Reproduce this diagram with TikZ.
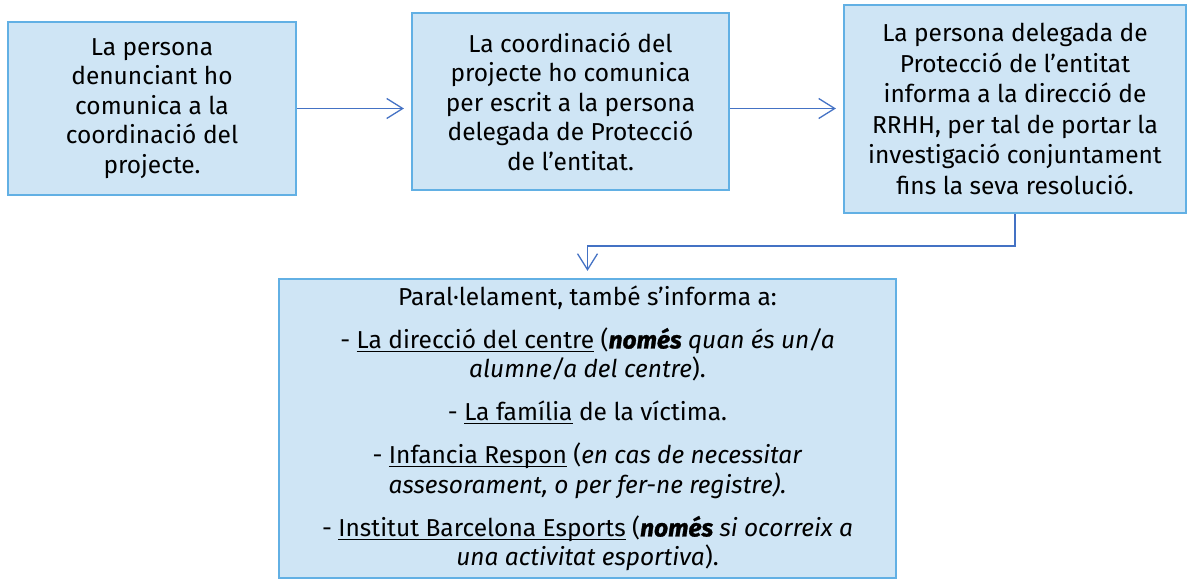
\documentclass[tikz,border=0pt]{standalone}
\usepackage{fontspec}
\setmainfont{Fira Sans}
\newfontfamily\heavyfont[FakeBold=1.2]{Fira Sans}
\usetikzlibrary{arrows.meta}
\definecolor{boxfill}{HTML}{CFE5F5}
\definecolor{boxline}{HTML}{62B0E4}
\definecolor{arrowc}{HTML}{4472C4}
\newcommand\myul[1]{\setbox0\hbox{#1}\rlap{\raisebox{-3.5pt}{\rule{\wd0}{1.1pt}}}\box0\relax}
\newcommand\heavyit[1]{{\heavyfont\bfseries\itshape #1}}
\begin{document}
\begin{tikzpicture}[x=1pt,y=1pt,
  box/.style={draw=boxline, line width=2.2pt, fill=boxfill, align=center,
    font=\fontsize{24.5}{29.5}\selectfont, inner sep=0pt},
  conn/.style={draw=arrowc, line width=1.3pt,
    -{Straight Barb[length=16pt,width=20pt,line width=1.3pt]}, shorten >=7pt}]
\useasboundingbox (0,0) rectangle (1188,-580);
\node[box, minimum width=288, minimum height=173] (b1) at (152,-108.5)
  {La persona\\denunciant ho\\comunica a la\\coordinació del\\projecte.};
\node[box, minimum width=317, minimum height=177] (b2) at (570.5,-101.5)
  {La coordinació del\\projecte ho comunica\\per escrit a la persona\\delegada de Protecció\\de l’entitat.};
\node[box, minimum width=342, minimum height=208, font=\fontsize{24.5}{30.5}\selectfont] (b3) at (1015,-109)
  {La persona delegada de\\Protecció de l’entitat\\informa a la direcció de\\RRHH, per tal de portar la\\investigació conjuntament\\fins la seva resolució.};
\node[box, minimum width=617, minimum height=299] (b4) at (587.5,-428.5)
  {Paral·lelament, també s’informa a:\\[13.5pt]
   - \myul{La direcció del centre} (\heavyit{només} \textit{quan és un/a}\\
   \textit{alumne/a del centre}).\\[13.5pt]
   - \myul{La família} de la víctima.\\[13.5pt]
   - \myul{Infancia Respon} (\textit{en cas de necessitar}\\
   \textit{assesorament, o per fer-ne registre).}\\[13.5pt]
   - \myul{Institut Barcelona Esports} (\heavyit{només} \textit{si ocorreix a}\\
   \textit{una activitat esportiva}).};
\draw[conn] (b1.east) -- (b1.east -| b2.west);
\draw[conn] (b1.east -| b2.east) -- (b1.east -| b3.west);
\draw[conn] (b3.south) -- ++(0,-32) -| (b4.north);
\end{tikzpicture}
\end{document}
